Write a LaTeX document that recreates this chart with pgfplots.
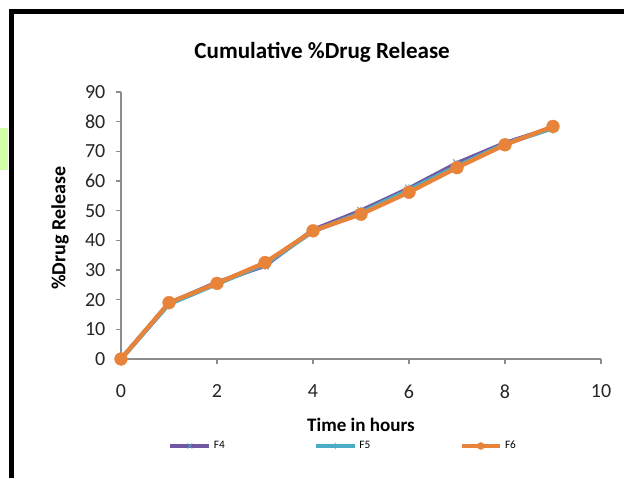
\documentclass[border=0pt]{standalone}
\usepackage{fontspec}
\setmainfont{Carlito}
\usepackage{pgfplots}
\pgfplotsset{compat=1.18}
\definecolor{cF4}{HTML}{7457A3}
\definecolor{cF5}{HTML}{4BACC6}
\definecolor{cF6}{HTML}{E8843A}
\definecolor{axgray}{HTML}{8C8C8C}
\begin{document}
\begin{tikzpicture}
\path[use as bounding box,fill=white] (0pt,0pt) rectangle (468pt,358.5pt);
% slide artefacts at the left
\fill[green!50!yellow!35] (0pt,231pt) rectangle (6pt,262.5pt);
% black frame
\draw[line width=3.75pt,black] (8.6pt,0pt) -- (8.6pt,349.9pt) -- (468pt,349.9pt);
\begin{axis}[
  at={(90.75pt,89.25pt)}, anchor=south west,
  scale only axis, width=360pt, height=200.25pt,
  xmin=0, xmax=10, ymin=0, ymax=90,
  xtick={0,2,...,10}, ytick={0,10,...,90},
  axis x line=bottom, axis y line=left,
  axis line style={axgray, line width=0.8pt, -},
  tick align=outside, major tick length=3.75pt,
  tick style={axgray, line width=0.8pt},
  xtick pos=bottom, ytick pos=left,
  /pgf/number format/assume math mode=true,
  ticklabel style={font=\fontsize{15}{16}\selectfont, text=black!85},
  xticklabel style={yshift=-12pt},
  yticklabel style={xshift=-4.5pt},
  title={\textbf{Cumulative \%Drug Release}},
  title style={at={(axis description cs:0.419,1)}, anchor=center, yshift=23.5pt, font=\fontsize{17.3}{19}\selectfont},
  xlabel={\textbf{Time in hours}},
  xlabel style={at={(axis description cs:0.5,0)}, anchor=center, yshift=-49.5pt, font=\fontsize{14.3}{16}\selectfont},
  ylabel={\textbf{\%Drug Release}},
  ylabel style={at={(axis description cs:-0.127,0.49)}, anchor=center, font=\fontsize{15}{16}\selectfont},
  legend columns=3,
  legend style={at={(axis description cs:0.098,0)}, anchor=west, yshift=-65.25pt,
    draw=none, fill=none, inner sep=0pt, font=\fontsize{8.5}{9}\selectfont,
    /tikz/every even column/.append style={column sep=64.75pt}},
  legend image code/.code={
    \draw[#1] (0pt,0pt) -- (29pt,0pt);
    \draw[#1,only marks,mark size=2.6pt] plot coordinates {(14.5pt,0pt)};
  },
  every axis plot/.append style={line width=3.2pt},
  clip=false,
]
\addplot[color=cF4, mark=x, mark size=4pt, mark options={line width=0.6pt, draw=cF5!70!cF4}]
  coordinates {(0,0) (1,18.8) (2,25.8) (3,31.5) (4,43.5) (5,50.0) (6,57.5) (7,66.0) (8,72.8) (9,78.0)};
\addlegendentry{F4}
\addplot[color=cF5, mark=asterisk, mark size=4.5pt, mark options={line width=0.6pt}]
  coordinates {(0,0) (1,18.5) (2,25.3) (3,32.0) (4,43.0) (5,49.3) (6,57.0) (7,65.0) (8,72.5) (9,77.8)};
\addlegendentry{F5}
\addplot[color=cF6, mark=*, mark size=4.8pt, mark options={fill=cF6, draw=cF6, line width=0.3pt}]
  coordinates {(0,0) (1,19.0) (2,25.5) (3,32.5) (4,43.2) (5,48.8) (6,56.2) (7,64.5) (8,72.2) (9,78.4)};
\addlegendentry{F6}
\end{axis}
\end{tikzpicture}
\end{document}
